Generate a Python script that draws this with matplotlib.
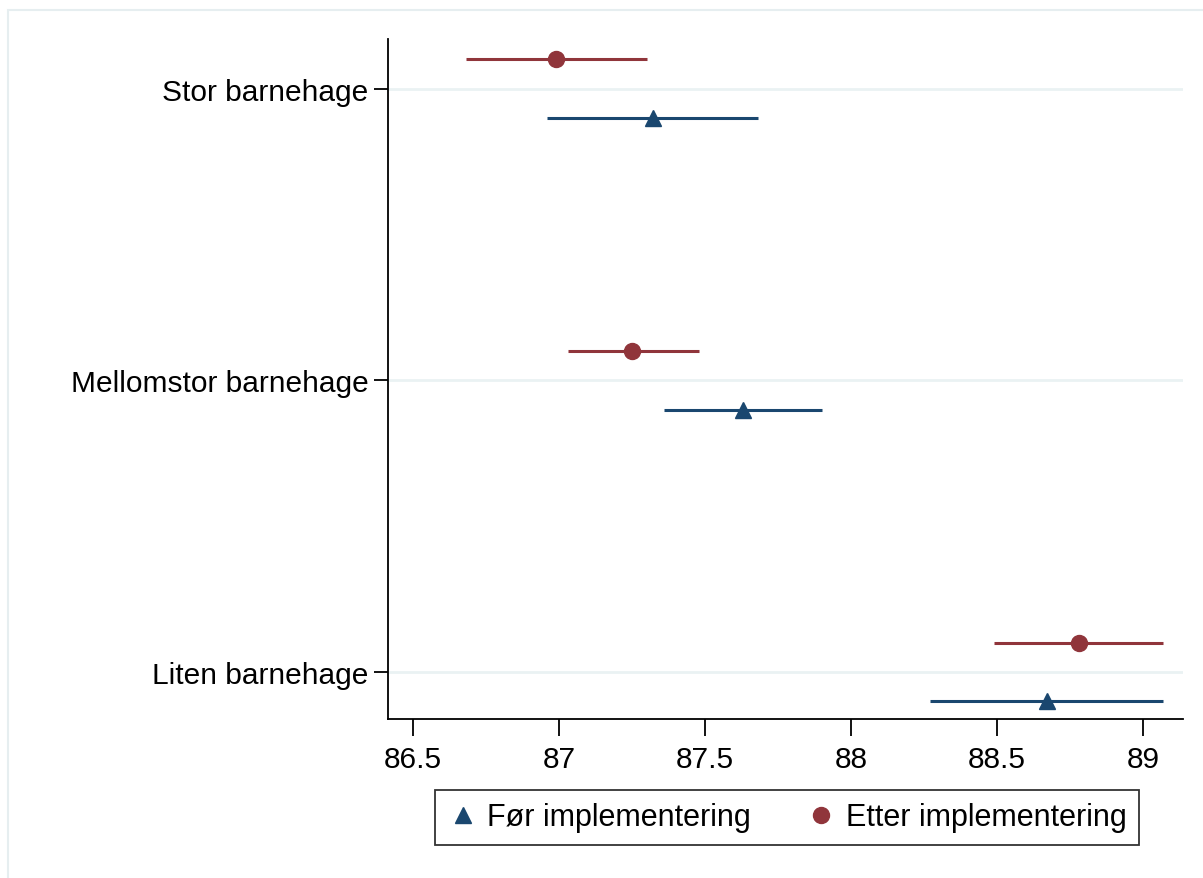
import numpy as np
import matplotlib.pyplot as plt
from matplotlib.lines import Line2D
from matplotlib.patches import Rectangle

plt.rcParams['font.family'] = ['Liberation Sans', 'DejaVu Sans']

# Kategorier (fra topp til bunn)
kategorier = ['Stor barnehage', 'Mellomstor barnehage', 'Liten barnehage']

# Før implementering: estimat og konfidensintervall
for_est = [87.32, 87.63, 88.67]
for_lav = [86.96, 87.36, 88.27]
for_hoy = [87.68, 87.90, 89.07]

# Etter implementering
etter_est = [86.99, 87.25, 88.78]
etter_lav = [86.68, 87.03, 88.49]
etter_hoy = [87.30, 87.48, 89.07]

xticks = [86.5, 87, 87.5, 88, 88.5, 89]
xtick_labels = ['86.5', '87', '87.5', '88', '88.5', '89']

blaa = '#1a476f'
rod = '#90353b'

fig = plt.figure(figsize=(12.03, 8.79), dpi=100)
ax = fig.add_axes([0.3225, 0.1809, 0.6609, 0.7736])

# ytre ramme (delvis synlig)
fig.patches.append(Rectangle((8 / 1203, -0.1), 1.2, 1 - 11 / 879 + 0.1,
                             transform=fig.transFigure, fill=False,
                             edgecolor='#e6eef0', linewidth=1.5))

n = len(kategorier)
ypos = np.arange(n)[::-1] + 1.0
off = 0.1

for y in ypos:
    ax.axhline(y, color='#eaf2f3', linewidth=2, zorder=0)

ax.hlines(ypos - off, for_lav, for_hoy, color=blaa, linewidth=2.2, zorder=2)
ax.plot(for_est, ypos - off, linestyle='none', marker='^', color=blaa,
        markersize=12, zorder=3)
ax.hlines(ypos + off, etter_lav, etter_hoy, color=rod, linewidth=2.2, zorder=2)
ax.plot(etter_est, ypos + off, linestyle='none', marker='o', color=rod,
        markersize=11.5, zorder=3)

ax.set_xlim(86.414, 89.137)
ax.set_ylim(0.84, 3.17)
ax.set_yticks(ypos)
ax.set_yticklabels(kategorier, fontsize=21.5)
ax.set_xticks(xticks)
ax.set_xticklabels(xtick_labels, fontsize=21.5)

for s in ['top', 'right']:
    ax.spines[s].set_visible(False)
ax.spines['left'].set_linewidth(1.3)
ax.spines['bottom'].set_linewidth(1.3)
ax.tick_params(axis='y', length=10, width=1.3, pad=4)
ax.tick_params(axis='x', length=12, width=1.3, pad=7)

handles = [
    Line2D([], [], linestyle='none', marker='^', color=blaa, markersize=12),
    Line2D([], [], linestyle='none', marker='o', color=rod, markersize=11.5),
]
leg = fig.legend(handles, ['Før implementering', 'Etter implementering'],
                 loc='center', bbox_to_anchor=(787 / 1203, 1 - 818.5 / 879),
                 ncol=2, fontsize=22, frameon=True, fancybox=False,
                 handletextpad=0.3, columnspacing=1.8, handlelength=1.0,
                 borderpad=0.4)
leg.get_frame().set_edgecolor('black')
leg.get_frame().set_linewidth(1.3)

fig.savefig('out.png', dpi=100)
